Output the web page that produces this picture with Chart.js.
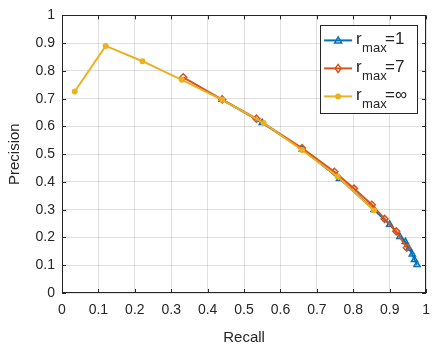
<!DOCTYPE html>
<html>
<head>
<meta charset="utf-8">
<script src="https://cdn.jsdelivr.net/npm/chart.js@4/dist/chart.umd.min.js"></script>
<style>
  html, body { margin: 0; padding: 0; background: #fff; }
  #wrap { width: 439px; height: 347px; }
</style>
</head>
<body>
<div id="wrap"><canvas id="pr-chart" width="439" height="347"></canvas></div>
<script>
// Dados (Recall x Precision)
const recallR1 = [0.44, 0.55, 0.66, 0.762, 0.857, 0.900, 0.928, 0.943, 0.953, 0.962, 0.968, 0.975];
const precisionR1 = [0.697, 0.613, 0.518, 0.412, 0.300, 0.247, 0.203, 0.185, 0.160, 0.140, 0.120, 0.102];

const recallR7 = [0.333, 0.44, 0.534, 0.659, 0.748, 0.802, 0.851, 0.886, 0.918, 0.947];
const precisionR7 = [0.777, 0.697, 0.628, 0.522, 0.437, 0.376, 0.318, 0.267, 0.222, 0.163];

const recallInf = [0.035, 0.120, 0.221, 0.329, 0.440, 0.554, 0.659, 0.757, 0.857];
const precisionInf = [0.726, 0.890, 0.835, 0.768, 0.696, 0.612, 0.515, 0.420, 0.297];

const xTicks = [0, 0.1, 0.2, 0.3, 0.4, 0.5, 0.6, 0.7, 0.8, 0.9, 1];
const yTicks = [0, 0.1, 0.2, 0.3, 0.4, 0.5, 0.6, 0.7, 0.8, 0.9, 1];
const legendLabels = ['1', '7', '\u221E'];

const azul = '#0072BD';
const laranja = '#D95319';
const amarelo = '#EDB120';
const eixoCor = '#262626';
const fonte = '"Liberation Sans", Arial, Helvetica, sans-serif';

function pontos(xs, ys) {
    return xs.map((x, i) => ({ x: x, y: ys[i] }));
}

// Desenha um marcador simples
function desenharMarcador(ctx, tipo, x, y, cor) {
    ctx.save();
    ctx.strokeStyle = cor;
    ctx.fillStyle = cor;
    ctx.lineWidth = 1.5;
    ctx.beginPath();
    if (tipo === 'triangle') {
        ctx.moveTo(x, y - 3.5);
        ctx.lineTo(x + 3.5, y + 2.5);
        ctx.lineTo(x - 3.5, y + 2.5);
        ctx.closePath();
        ctx.stroke();
    } else if (tipo === 'rectRot') {
        ctx.moveTo(x, y - 4);
        ctx.lineTo(x + 3, y);
        ctx.lineTo(x, y + 4);
        ctx.lineTo(x - 3, y);
        ctx.closePath();
        ctx.stroke();
    } else {
        ctx.arc(x, y, 3, 0, Math.PI * 2);
        ctx.fill();
    }
    ctx.restore();
}

// Caixa dos eixos e ticks para dentro (estilo MATLAB)
const caixaEixos = {
    id: 'caixaEixos',
    afterDraw(chart) {
        const ctx = chart.ctx;
        const a = chart.chartArea;
        const sx = chart.scales.x;
        const sy = chart.scales.y;
        ctx.save();
        ctx.strokeStyle = eixoCor;
        ctx.lineWidth = 1;
        ctx.strokeRect(Math.round(a.left) + 0.5, Math.round(a.top) + 0.5,
            Math.round(a.right - a.left) - 1, Math.round(a.bottom - a.top) - 1);
        ctx.beginPath();
        xTicks.forEach(v => {
            const px = Math.round(sx.getPixelForValue(v)) + 0.5;
            ctx.moveTo(px, a.bottom); ctx.lineTo(px, a.bottom - 4);
            ctx.moveTo(px, a.top); ctx.lineTo(px, a.top + 4);
        });
        yTicks.forEach(v => {
            const py = Math.round(sy.getPixelForValue(v)) + 0.5;
            ctx.moveTo(a.left, py); ctx.lineTo(a.left + 4, py);
            ctx.moveTo(a.right, py); ctx.lineTo(a.right - 4, py);
        });
        ctx.stroke();
        ctx.restore();
    }
};

// Legenda com subscrito "max"
const legendaMax = {
    id: 'legendaMax',
    afterDraw(chart) {
        const ctx = chart.ctx;
        const a = chart.chartArea;
        const bx = a.right - 106, by = a.top + 10, bw = 97, bh = 88;
        ctx.save();
        ctx.fillStyle = '#fff';
        ctx.fillRect(bx, by, bw, bh);
        ctx.strokeStyle = eixoCor;
        ctx.lineWidth = 1;
        ctx.strokeRect(Math.round(bx) + 0.5, Math.round(by) + 0.5, bw, bh);
        chart.data.datasets.forEach((ds, i) => {
            const y = by + 15 + i * 28;
            ctx.strokeStyle = ds.borderColor;
            ctx.lineWidth = 2;
            ctx.beginPath();
            ctx.moveTo(bx + 4, y);
            ctx.lineTo(bx + 32, y);
            ctx.stroke();
            desenharMarcador(ctx, ds.pointStyle, bx + 18, y, ds.borderColor);
            ctx.fillStyle = eixoCor;
            ctx.textBaseline = 'alphabetic';
            ctx.font = '17px ' + fonte;
            ctx.fillText('r', bx + 36, y + 4);
            ctx.font = '13px ' + fonte;
            ctx.fillText('max', bx + 42, y + 12);
            ctx.font = '17px ' + fonte;
            ctx.fillText('=' + legendLabels[i], bx + 65, y + 4);
        });
        ctx.restore();
    }
};

const ctx = document.getElementById('pr-chart').getContext('2d');
const graficoPR = new Chart(ctx, {
    type: 'line',
    data: {
        datasets: [
            {
                label: 'r_max=1',
                data: pontos(recallR1, precisionR1),
                borderColor: azul,
                backgroundColor: 'rgba(0,0,0,0)',
                pointStyle: 'triangle',
                pointRadius: 3.5,
                pointBorderWidth: 1.5,
                borderWidth: 2,
                order: 2
            },
            {
                label: 'r_max=7',
                data: pontos(recallR7, precisionR7),
                borderColor: laranja,
                backgroundColor: 'rgba(0,0,0,0)',
                pointStyle: 'rectRot',
                pointRadius: 3.5,
                pointBorderWidth: 1.5,
                borderWidth: 2,
                order: 1
            },
            {
                label: 'r_max=\u221E',
                data: pontos(recallInf, precisionInf),
                borderColor: amarelo,
                backgroundColor: amarelo,
                pointStyle: 'circle',
                pointRadius: 3,
                pointBorderWidth: 0,
                borderWidth: 2,
                order: 0
            }
        ]
    },
    options: {
        responsive: false,
        animation: false,
        layout: { padding: { left: 0, right: 3, top: 10, bottom: 0 } },
        plugins: { legend: { display: false }, tooltip: { enabled: false } },
        scales: {
            x: {
                type: 'linear',
                min: 0, max: 1,
                afterFit: s => { s.height = 54; },
                afterBuildTicks: s => { s.ticks = xTicks.map(v => ({ value: v })); },
                grid: { color: 'rgba(0,0,0,0.12)', drawTicks: false },
                border: { display: false },
                ticks: {
                    padding: 9,
                    maxRotation: 0,
                    color: eixoCor,
                    font: { family: fonte, size: 14 },
                    callback: v => String(v)
                },
                title: {
                    display: true,
                    text: 'Recall',
                    color: eixoCor,
                    font: { family: fonte, size: 15 },
                    padding: { top: 2, bottom: 0 }
                }
            },
            y: {
                type: 'linear',
                min: 0, max: 1,
                afterFit: s => { s.width = 62; },
                afterBuildTicks: s => { s.ticks = yTicks.map(v => ({ value: v })); },
                grid: { color: 'rgba(0,0,0,0.12)', drawTicks: false },
                border: { display: false },
                ticks: {
                    padding: 7,
                    color: eixoCor,
                    font: { family: fonte, size: 14 },
                    callback: v => String(v)
                },
                title: {
                    display: true,
                    text: 'Precision',
                    color: eixoCor,
                    font: { family: fonte, size: 15 },
                    padding: { top: 6, bottom: 0 }
                }
            }
        }
    },
    plugins: [caixaEixos, legendaMax]
});
</script>
</body>
</html>
